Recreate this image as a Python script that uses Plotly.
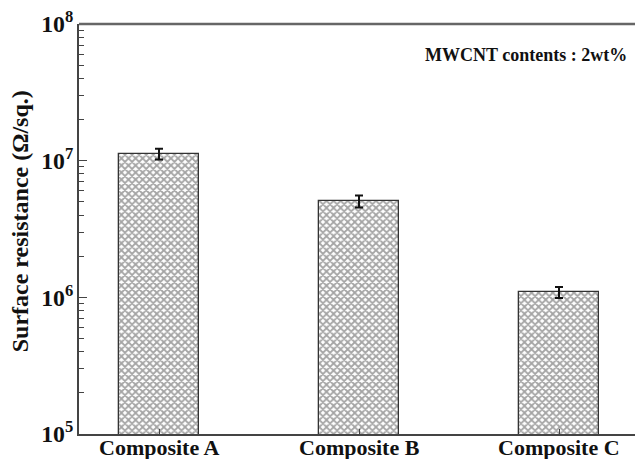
import plotly.graph_objects as go

categories = ["Composite A", "Composite B", "Composite C"]
resistance = [1.12e7, 5.05e6, 1.09e6]
errors = [1.0e6, 0.5e6, 0.1e6]
y_title = "Surface resistance (Ω/sq.)"
note = "MWCNT contents : 2wt%"

FONT = "Liberation Serif"
AX = "#444444"
TXT = "#111111"

xpos = list(range(len(categories)))

fig = go.Figure()
fig.add_trace(go.Bar(
    x=xpos,
    y=resistance,
    width=0.4,
    marker=dict(
        color="white",
        line=dict(color="#333333", width=1.3),
        pattern=dict(shape="x", size=5, solidity=0.6, fgcolor="#4a4a4a", bgcolor="white"),
    ),
    error_y=dict(type="data", array=errors, visible=True, color=TXT, thickness=2, width=4),
    showlegend=False,
))

annotations = [
    dict(text=y_title, xref="paper", yref="paper", x=-0.106, y=0.519,
         xanchor="center", yanchor="middle", textangle=-90, showarrow=False,
         font=dict(family=FONT, size=24, color=TXT, weight="bold")),
    dict(text=note, xref="paper", yref="paper", x=0.989, y=0.9245,
         xanchor="right", yanchor="middle", showarrow=False,
         font=dict(family=FONT, size=18, color=TXT, weight="bold")),
]
for xi, name in zip(xpos, categories):
    annotations.append(dict(
        text=name, xref="x", yref="paper", x=xi, y=0, yanchor="top", xanchor="center",
        yshift=1, showarrow=False,
        font=dict(family=FONT, size=22, color=TXT, weight="bold"),
    ))

fig.update_layout(
    width=635, height=459,
    margin=dict(l=79, r=0, t=24, b=25, autoexpand=False),
    paper_bgcolor="white", plot_bgcolor="white",
    font=dict(family=FONT, color=TXT),
    bargap=0,
    xaxis=dict(
        range=[-0.4, 2.38], automargin=False,
        tickmode="array", tickvals=xpos, ticktext=categories, showticklabels=False,
        ticks="inside", ticklen=5, tickwidth=1, tickcolor=AX,
        showline=True, linecolor=AX, linewidth=2, mirror=False,
        showgrid=False, zeroline=False,
    ),
    yaxis=dict(
        type="log", range=[5, 8], dtick=1, automargin=False,
        exponentformat="power",
        ticks="inside", ticklen=8, tickwidth=1.2, tickcolor=AX,
        minor=dict(ticks="inside", ticklen=5, tickwidth=1, tickcolor=AX, showgrid=False),
        showline=True, linecolor=AX, linewidth=2, mirror=False,
        showgrid=False, zeroline=False,
        tickfont=dict(family=FONT, size=19, color=TXT, weight="bold"),
    ),
    shapes=[
        dict(type="line", xref="paper", yref="paper", x0=0, x1=1, y0=1, y1=1,
             line=dict(color="#666666", width=2.5)),
    ],
    annotations=annotations,
)

fig.write_html("out.html")
